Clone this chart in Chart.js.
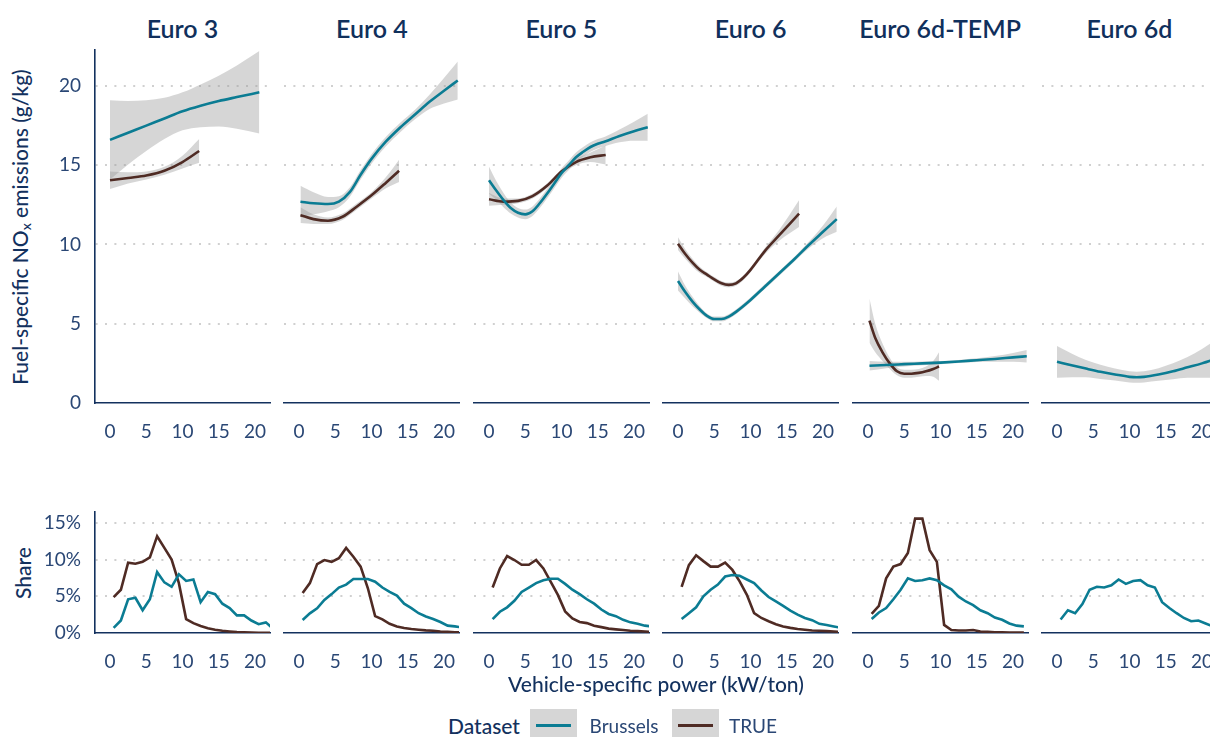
<!DOCTYPE html>
<html>
<head>
<meta charset="utf-8">
<script src="https://cdn.jsdelivr.net/npm/chart.js@4.4.1/dist/chart.umd.min.js"></script>
<style>
html, body { margin: 0; padding: 0; background: #fff; overflow: hidden; width: 1210px; height: 737px; }
#stage { position: relative; width: 1260px; height: 737px; font-family: Lato, "Open Sans", sans-serif; color: #13315e; }
#stage canvas { position: absolute; }
.t { position: absolute; white-space: nowrap; line-height: 1; }
.title { font-size: 25px; font-weight: 600; color: #10305c; }
.axt { font-size: 21px; font-weight: 500; color: #13315e; }
.leg { font-size: 19px; color: #2a4775; }
.key { position: absolute; width: 47px; height: 32px; background: #d6d6d6; }
.key i { position: absolute; left: 6px; right: 6px; top: 15px; height: 3px; }
</style>
</head>
<body>
<div id="stage"></div>
<script>
// facets and ticks
const PANELS = ['Euro 3', 'Euro 4', 'Euro 5', 'Euro 6', 'Euro 6d-TEMP', 'Euro 6d'];
const X_TICKS = [0, 5, 10, 15, 20];
const NOX_TICKS = [0, 5, 10, 15, 20];
const SHARE_TICKS = [0, 5, 10, 15];

// smoothed fuel-specific NOx (g/kg) with confidence band, per Euro class
const e3BxlX  = [0, 2.5, 5, 7.5, 10, 12.5, 15, 17.5, 20.6];
const e3BxlY  = [16.6, 17.05, 17.5, 17.95, 18.4, 18.75, 19.05, 19.3, 19.6];
const e3BxlLo = [14.1, 15.05, 15.9, 16.65, 17.2, 17.4, 17.45, 17.3, 17.0];
const e3BxlHi = [19.1, 19.05, 19.1, 19.25, 19.6, 20.1, 20.65, 21.3, 22.2];
const e3TrueX  = [0, 2.5, 5, 7.5, 10, 12.3];
const e3TrueY  = [14.05, 14.2, 14.35, 14.65, 15.2, 15.9];
const e3TrueLo = [13.5, 13.85, 14.1, 14.4, 14.8, 15.15];
const e3TrueHi = [14.6, 14.55, 14.6, 14.9, 15.6, 16.65];

const e4BxlX  = [0.2, 2, 4, 5.5, 7, 8.5, 10, 12, 14, 16, 18, 20, 21.9];
const e4BxlY  = [12.7, 12.6, 12.55, 12.7, 13.3, 14.4, 15.4, 16.5, 17.4, 18.2, 19.0, 19.7, 20.35];
const e4BxlLo = [11.7, 11.9, 12.1, 12.35, 13.0, 14.1, 15.1, 16.2, 17.1, 17.9, 18.55, 18.9, 19.15];
const e4BxlHi = [13.7, 13.3, 13.0, 13.05, 13.6, 14.7, 15.7, 16.8, 17.7, 18.5, 19.45, 20.5, 21.55];
const e4TrueX  = [0.2, 2, 4, 6, 8, 10, 12, 13.8];
const e4TrueY  = [11.85, 11.6, 11.5, 11.75, 12.4, 13.1, 13.9, 14.65];
const e4TrueLo = [11.35, 11.3, 11.3, 11.55, 12.2, 12.9, 13.55, 13.95];
const e4TrueHi = [12.35, 11.9, 11.7, 11.95, 12.6, 13.3, 14.25, 15.35];

const e5BxlX  = [0, 1, 2, 3, 4, 5, 6, 7, 8, 9, 10, 11, 12, 13, 14, 15, 16, 18, 20, 21.9];
const e5BxlY  = [14.05, 13.4, 12.8, 12.3, 12.0, 11.9, 12.1, 12.6, 13.2, 13.85, 14.5, 15.0, 15.5, 15.85, 16.15, 16.35, 16.5, 16.85, 17.15, 17.4];
const e5BxlLo = [13.2, 12.8, 12.35, 11.95, 11.7, 11.6, 11.8, 12.3, 12.9, 13.55, 14.2, 14.7, 15.2, 15.55, 15.85, 16.05, 16.2, 16.45, 16.55, 16.55];
const e5BxlHi = [14.9, 14.0, 13.25, 12.65, 12.3, 12.2, 12.4, 12.9, 13.5, 14.15, 14.8, 15.3, 15.8, 16.15, 16.45, 16.65, 16.8, 17.25, 17.75, 18.25];
const e5TrueX  = [0, 2, 4, 6, 8, 10, 12, 14, 16.1];
const e5TrueY  = [12.85, 12.7, 12.75, 13.05, 13.7, 14.6, 15.2, 15.5, 15.65];
const e5TrueLo = [12.45, 12.5, 12.6, 12.9, 13.55, 14.45, 15.0, 15.2, 15.05];
const e5TrueHi = [13.25, 12.9, 12.9, 13.2, 13.85, 14.75, 15.4, 15.8, 16.25];

const e6BxlX  = [0, 1, 2, 3, 4, 5, 6, 7, 8, 10, 12, 14, 16, 18, 20, 21.9];
const e6BxlY  = [7.7, 7.0, 6.4, 5.9, 5.5, 5.3, 5.3, 5.45, 5.75, 6.5, 7.35, 8.2, 9.05, 9.95, 10.8, 11.6];
const e6BxlLo = [7.1, 6.6, 6.1, 5.7, 5.35, 5.15, 5.15, 5.3, 5.6, 6.35, 7.2, 8.05, 8.9, 9.75, 10.4, 10.8];
const e6BxlHi = [8.3, 7.4, 6.7, 6.1, 5.65, 5.45, 5.45, 5.6, 5.9, 6.65, 7.5, 8.35, 9.2, 10.15, 11.2, 12.4];
const e6TrueX  = [0, 1, 2, 3, 4, 5, 6, 7, 8, 9, 10, 12, 14, 16.7];
const e6TrueY  = [10.05, 9.4, 8.85, 8.4, 8.1, 7.8, 7.55, 7.45, 7.55, 7.9, 8.4, 9.6, 10.6, 11.95];
const e6TrueLo = [9.65, 9.1, 8.6, 8.2, 7.95, 7.65, 7.4, 7.3, 7.4, 7.75, 8.25, 9.4, 10.25, 11.1];
const e6TrueHi = [10.45, 9.7, 9.1, 8.6, 8.25, 7.95, 7.7, 7.6, 7.7, 8.05, 8.55, 9.8, 10.95, 12.8];

const e6tBxlX  = [0.2, 2.5, 5, 7.5, 10, 12.5, 15, 17.5, 20, 21.9];
const e6tBxlY  = [2.35, 2.4, 2.45, 2.5, 2.55, 2.62, 2.7, 2.78, 2.88, 2.95];
const e6tBxlLo = [2.05, 2.2, 2.3, 2.38, 2.45, 2.52, 2.58, 2.6, 2.6, 2.55];
const e6tBxlHi = [2.65, 2.6, 2.6, 2.62, 2.65, 2.72, 2.82, 2.96, 3.16, 3.35];
const e6tTrueX  = [0.2, 1, 2, 3, 4, 5, 6, 7, 8, 9, 9.8];
const e6tTrueY  = [5.2, 4.1, 3.2, 2.5, 2.0, 1.85, 1.85, 1.9, 2.0, 2.15, 2.3];
const e6tTrueLo = [3.8, 3.2, 2.65, 2.15, 1.75, 1.6, 1.6, 1.65, 1.7, 1.65, 1.4];
const e6tTrueHi = [6.6, 5.0, 3.75, 2.85, 2.25, 2.1, 2.1, 2.15, 2.3, 2.65, 3.2];

const e6dBxlX  = [0, 2, 4, 6, 8, 10, 11, 12, 14, 16, 18, 20, 22];
const e6dBxlY  = [2.6, 2.38, 2.17, 1.97, 1.8, 1.65, 1.62, 1.65, 1.8, 2.0, 2.25, 2.5, 2.8];
const e6dBxlLo = [1.6, 1.63, 1.62, 1.52, 1.42, 1.3, 1.27, 1.3, 1.4, 1.5, 1.6, 1.6, 1.6];
const e6dBxlHi = [3.6, 3.13, 2.72, 2.42, 2.18, 2.0, 1.97, 2.0, 2.2, 2.5, 2.9, 3.4, 4.0];

// share of observations per VSP bin (%)
const binX = [0.5, 1.5, 2.5, 3.5, 4.5, 5.5, 6.5, 7.5, 8.5, 9.5, 10.5, 11.5, 12.5, 13.5, 14.5, 15.5, 16.5, 17.5, 18.5, 19.5, 20.5, 21.5, 22.5];
const e3ShareBxl  = [0.7, 1.7, 4.6, 4.8, 3.1, 4.6, 8.3, 6.9, 6.3, 8.0, 7.1, 7.3, 4.2, 5.6, 5.3, 4.0, 3.4, 2.4, 2.4, 1.7, 1.2, 1.45, 0.6];
const e3ShareTrue = [4.9, 5.9, 9.6, 9.45, 9.7, 10.3, 13.2, 11.6, 10.0, 6.8, 1.9, 1.35, 0.95, 0.65, 0.45, 0.3, 0.2, 0.12, 0.08, 0.05, 0.03, 0.02, 0.01];
const e4ShareBxl  = [1.77, 2.68, 3.36, 4.5, 5.3, 6.2, 6.6, 7.36, 7.36, 7.36, 7.0, 6.2, 5.6, 5.1, 4.0, 3.4, 2.7, 2.25, 1.9, 1.5, 1.0, 0.9, 0.75];
const e4ShareTrue = [5.45, 6.8, 9.4, 9.95, 9.7, 10.2, 11.6, 10.4, 9.05, 6.1, 2.3, 1.85, 1.25, 0.9, 0.68, 0.55, 0.45, 0.36, 0.3, 0.2, 0.15, 0.1, 0.08];
const e5ShareBxl  = [1.9, 2.9, 3.5, 4.4, 5.6, 6.2, 6.8, 7.2, 7.4, 7.4, 6.7, 5.9, 5.3, 4.6, 4.0, 3.2, 2.6, 2.3, 1.8, 1.45, 1.25, 1.0, 0.9];
const e5ShareTrue = [6.2, 8.8, 10.5, 9.95, 9.3, 9.3, 9.95, 8.8, 7.0, 5.2, 2.95, 2.0, 1.5, 1.35, 1.0, 0.8, 0.6, 0.5, 0.4, 0.3, 0.25, 0.2, 0.15];
const e6ShareBxl  = [1.9, 2.7, 3.5, 5.0, 5.9, 6.6, 7.7, 7.9, 7.8, 7.3, 6.8, 5.8, 4.9, 4.3, 3.7, 3.05, 2.5, 2.05, 1.75, 1.25, 1.1, 0.9, 0.7];
const e6ShareTrue = [6.3, 9.25, 10.6, 9.8, 9.05, 9.05, 9.6, 8.6, 7.05, 5.2, 2.7, 2.05, 1.6, 1.2, 0.9, 0.7, 0.55, 0.45, 0.35, 0.3, 0.25, 0.2, 0.15];
const e6tShareBxl  = [1.9, 2.8, 3.4, 4.6, 5.9, 7.45, 7.1, 7.2, 7.45, 7.2, 6.5, 5.95, 4.95, 4.3, 3.8, 3.1, 2.7, 2.1, 1.8, 1.3, 1.0, 0.9];
const e6tShareTrue = [2.6, 3.7, 7.45, 9.05, 9.4, 10.9, 15.6, 15.6, 11.3, 9.7, 1.1, 0.4, 0.35, 0.35, 0.4, 0.2, 0.15, 0.1, 0.1, 0.05, 0.05, 0.05];
const e6dShareBxl  = [1.85, 3.1, 2.7, 3.95, 5.9, 6.3, 6.2, 6.5, 7.3, 6.7, 7.1, 7.2, 6.5, 6.2, 4.2, 3.4, 2.7, 2.05, 1.6, 1.7, 1.3, 0.9];

const fits = [
  { bxl: [e3BxlX, e3BxlY, e3BxlLo, e3BxlHi], tru: [e3TrueX, e3TrueY, e3TrueLo, e3TrueHi] },
  { bxl: [e4BxlX, e4BxlY, e4BxlLo, e4BxlHi], tru: [e4TrueX, e4TrueY, e4TrueLo, e4TrueHi] },
  { bxl: [e5BxlX, e5BxlY, e5BxlLo, e5BxlHi], tru: [e5TrueX, e5TrueY, e5TrueLo, e5TrueHi] },
  { bxl: [e6BxlX, e6BxlY, e6BxlLo, e6BxlHi], tru: [e6TrueX, e6TrueY, e6TrueLo, e6TrueHi] },
  { bxl: [e6tBxlX, e6tBxlY, e6tBxlLo, e6tBxlHi], tru: [e6tTrueX, e6tTrueY, e6tTrueLo, e6tTrueHi] },
  { bxl: [e6dBxlX, e6dBxlY, e6dBxlLo, e6dBxlHi], tru: null }
];
const shares = [
  [e3ShareBxl, e3ShareTrue], [e4ShareBxl, e4ShareTrue], [e5ShareBxl, e5ShareTrue],
  [e6ShareBxl, e6ShareTrue], [e6tShareBxl, e6tShareTrue], [e6dShareBxl, null]
];

// look
const FONT = 'Lato, "Open Sans", sans-serif';
const NAVY = '#13315e';
const TICK = '#2a4775';
const TEAL = '#0b7c93';
const BROWN = '#4f2b24';
const RIBBON = 'rgba(153,153,153,0.4)';
const GRID = '#d0d0d0';
const X_MIN = -2.07, X_MAX = 22.07;
// PAD_T is kept large so the y tick labels never push the plot area down
const PAD_L = 10, PAD_T = 30, PAD_R = 10, XAXIS_H = 40, YAXIS_W = 50, PANEL_W = 175;

const stage = document.getElementById('stage');

function pts(xs, ys) {
  return ys.map((y, i) => ({ x: xs[i], y }));
}

function band(xs, lo, hi) {
  return [
    { data: pts(xs, lo), borderWidth: 0, borderColor: 'rgba(0,0,0,0)', fill: false, cubicInterpolationMode: 'monotone' },
    { data: pts(xs, hi), borderWidth: 0, borderColor: 'rgba(0,0,0,0)', fill: '-1', backgroundColor: RIBBON, cubicInterpolationMode: 'monotone' }
  ];
}

function line(xs, ys, color, smooth) {
  return { data: pts(xs, ys), borderColor: color, borderWidth: 2.6, fill: false,
           cubicInterpolationMode: smooth ? 'monotone' : 'default', tension: 0 };
}

function addText(html, x, y, cls, rot) {
  const d = document.createElement('div');
  d.className = 't ' + cls;
  d.innerHTML = html;
  d.style.left = x + 'px';
  d.style.top = y + 'px';
  d.style.transform = 'translate(-50%,-50%)' + (rot ? ' rotate(-90deg)' : '');
  stage.appendChild(d);
}

function makePanel(k, y0, y1, yMax, yTicks, yFmt, datasets) {
  const yw = k === 0 ? YAXIS_W : 0;
  const L = 95 + 189.4 * k;
  const cv = document.createElement('canvas');
  cv.width = PAD_L + yw + PANEL_W + PAD_R;
  cv.height = PAD_T + (y1 - y0) + XAXIS_H;
  cv.style.left = (L - yw - PAD_L) + 'px';
  cv.style.top = (y0 - PAD_T) + 'px';
  stage.appendChild(cv);
  const tickFont = { family: FONT, size: 19 };
  new Chart(cv, {
    type: 'line',
    data: { datasets },
    options: {
      responsive: false,
      animation: false,
      devicePixelRatio: 1,
      layout: { padding: { left: PAD_L, top: PAD_T, right: PAD_R, bottom: 0 } },
      elements: { point: { radius: 0 } },
      plugins: {
        legend: { display: false },
        tooltip: { enabled: false },
        filler: { drawTime: 'beforeDatasetsDraw' }
      },
      scales: {
        x: {
          type: 'linear', min: X_MIN, max: X_MAX,
          afterBuildTicks: s => { s.ticks = X_TICKS.map(v => ({ value: v })); },
          afterFit: s => { s.height = XAXIS_H; },
          grid: { display: false },
          border: { display: true, color: NAVY, width: 1.6 },
          ticks: { color: TICK, font: tickFont, padding: 9, maxRotation: 0, autoSkip: false }
        },
        y: {
          type: 'linear', min: 0, max: yMax,
          afterBuildTicks: s => { s.ticks = yTicks.map(v => ({ value: v })); },
          afterFit: s => { s.width = yw; },
          grid: {
            color: c => (c.tick && c.tick.value === 0) ? 'rgba(0,0,0,0)' : GRID,
            lineWidth: 2, drawTicks: false
          },
          border: { display: k === 0, color: NAVY, width: 1.6, dash: [2, 7.4] },
          ticks: { display: k === 0, color: TICK, font: tickFont, padding: 14, callback: yFmt }
        }
      }
    }
  });
}

PANELS.forEach((name, k) => {
  const L = 95 + 189.4 * k;
  addText(name, L + PANEL_W / 2, 28, 'title');

  // emissions row
  const f = fits[k];
  let ds = band(f.bxl[0], f.bxl[2], f.bxl[3]);
  if (f.tru) ds = ds.concat(band(f.tru[0], f.tru[2], f.tru[3]));
  ds.push(line(f.bxl[0], f.bxl[1], TEAL, true));
  if (f.tru) ds.push(line(f.tru[0], f.tru[1], BROWN, true));
  makePanel(k, 50, 403, 22.27, NOX_TICKS, v => String(v), ds);

  // share row
  const s = shares[k];
  const sd = [line(binX, s[0], TEAL, false)];
  if (s[1]) sd.push(line(binX, s[1], BROWN, false));
  makePanel(k, 512, 633, 16.5, SHARE_TICKS, v => v + '%', sd);
});

// axis titles
addText('Fuel-specific NO<sub style="font-size:14px;vertical-align:-3px">x</sub> emissions (g/kg)', 21, 227, 'axt', true);
addText('Share', 22, 573, 'axt', true);
addText('Vehicle-specific power (kW/ton)', 656, 683, 'axt');

// legend
addText('Dataset', 484, 725, 'axt');
const keys = [[530, TEAL], [672, BROWN]];
keys.forEach(([x, c]) => {
  const k = document.createElement('div');
  k.className = 'key';
  k.style.left = x + 'px';
  k.style.top = '709px';
  k.innerHTML = '<i style="background:' + c + '"></i>';
  stage.appendChild(k);
});
addText('Brussels', 624, 725, 'leg');
addText('TRUE', 753, 725, 'leg');
</script>
</body>
</html>
